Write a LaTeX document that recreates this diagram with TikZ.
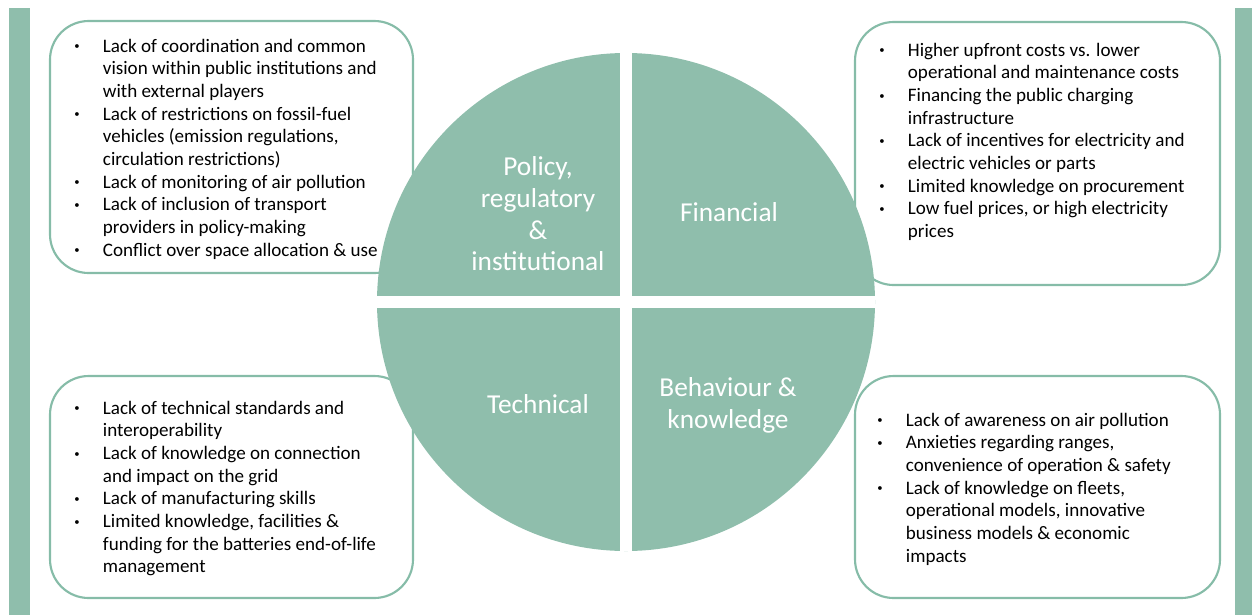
\documentclass[tikz,border=0pt]{standalone}
\usepackage{fontspec}
\setmainfont{Carlito}
\usetikzlibrary{positioning}
\definecolor{sage}{HTML}{8FBEAC}
\definecolor{sageline}{HTML}{86BCA8}
\newcommand{\dotitem}{\raisebox{1.6pt}{\fontsize{8}{8}\selectfont\textbullet}}
\begin{document}
\begin{tikzpicture}[
        x=0.75pt, y=-0.75pt,
        box/.style={draw=sageline, line width=1.6pt, rounded corners=29pt, fill=white},
        list/.style={anchor=base west, inner sep=0pt, font=\fontsize{14.3}{17}\selectfont},
        quad/.style={text=white, align=center, inner sep=0pt, font=\fontsize{20.5}{23.8}\selectfont},
        gap/.style={draw=white, line width=8.8pt},
    ]
    \useasboundingbox (0,0) rectangle (1252,615);

    % side bars
    \fill[sage] (9,8) rectangle (30,615);
    \fill[sage] (1235,8) rectangle (1252,615);

    % boxes behind the wheel
    \draw[box] (50,21) rectangle (413,273);
    \draw[box] (855,22) rectangle (1220,285);
    \draw[box] (50,376) rectangle (413,598);
    \draw[box] (855,376) rectangle (1220,598);

    \node[list](polbox) at (74,52) {\begin{tabular}[t]{@{}p{21.5pt}@{}l@{}}
        \dotitem & Lack of coordination and common\\
        & vision within public institutions and\\
        & with external players\\
        \dotitem & Lack of restrictions on fossil-fuel\\
        & vehicles (emission regulations,\\
        & circulation restrictions)\\
        \dotitem & Lack of monitoring of air pollution\\
        \dotitem & Lack of inclusion of transport\\
        & providers in policy-making\\
        \dotitem & Conflict over space allocation \& use
    \end{tabular}};
    \node[list](finbox) at (879,56) {\begin{tabular}[t]{@{}p{21.5pt}@{}l@{}}
        \dotitem & Higher upfront costs vs. lower\\
        & operational and maintenance costs\\
        \dotitem & Financing the public charging\\
        & infrastructure\\
        \dotitem & Lack of incentives for electricity and\\
        & electric vehicles or parts\\
        \dotitem & Limited knowledge on procurement\\
        \dotitem & Low fuel prices, or high electricity\\
        & prices
    \end{tabular}};
    \node[list](tecbox) at (74,414) {\begin{tabular}[t]{@{}p{21.5pt}@{}l@{}}
        \dotitem & Lack of technical standards and\\
        & interoperability\\
        \dotitem & Lack of knowledge on connection\\
        & and impact on the grid\\
        \dotitem & Lack of manufacturing skills\\
        \dotitem & Limited knowledge, facilities \&\\
        & funding for the batteries end-of-life\\
        & management
    \end{tabular}};
    \node[list](behbox) at (877,426) {\begin{tabular}[t]{@{}p{21.5pt}@{}l@{}}
        \dotitem & Lack of awareness on air pollution\\
        \dotitem & Anxieties regarding ranges,\\
        & convenience of operation \& safety\\
        \dotitem & Lack of knowledge on fleets,\\
        & operational models, innovative\\
        & business models \& economic\\
        & impacts
    \end{tabular}};

    % the wheel
    \coordinate (c) at (626,302);
    \fill[sage] (c) circle[radius=249];
    \draw[gap] (626,53) -- (626,551);
    \draw[gap] (377,302) -- (875,302);

    \node[quad](pol) at (538,214) {Policy,\\regulatory\\\&\\institutional};
    \node[quad](fin) at (729,212) {Financial};
    \node[quad](tec) at (538,404) {Technical};
    \node[quad](beh) at (728,405) {Behaviour \&\\knowledge};
\end{tikzpicture}
\end{document}
